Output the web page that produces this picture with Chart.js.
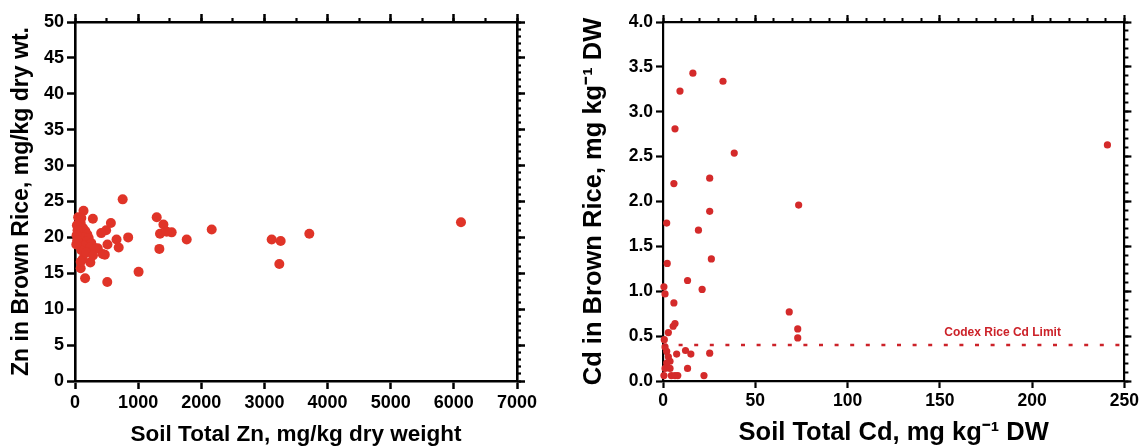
<!DOCTYPE html>
<html>
<head>
<meta charset="utf-8">
<script src="https://cdn.jsdelivr.net/npm/chart.js@4.4.1/dist/chart.umd.min.js"></script>
<style>
  html, body { margin: 0; padding: 0; background: #fff; }
  #wrap { position: relative; width: 1142px; height: 446px; overflow: hidden; background: #fff; }
  .panel { position: absolute; top: 0; width: 571px; height: 446px; }
  #p1 { left: 0; }
  #p2 { left: 571px; }
</style>
</head>
<body>
<div id="wrap">
  <div class="panel" id="p1"><canvas id="c1" width="571" height="446"></canvas></div>
  <div class="panel" id="p2"><canvas id="c2" width="571" height="446"></canvas></div>
</div>
<script>
// ---------- Data: left panel (Zn) ----------
const soilZn = [755, 135, 283, 568, 1294, 1400, 1346, 1531, 1452, 2165, 1769, 1336, 842, 658, 692, 514, 493, 415, 472, 438, 360, 317, 243, 124, 1007, 511, 160, 90, 6113, 3115, 3257, 3711, 3236, 50, 90, 100, 127, 163, 111, 195, 143, 217, 179, 258, 127, 233, 312, 100, 179, 285, 90, 30, 40, 25, 35, 20];
const riceZn = [25.3, 23.7, 22.6, 22.0, 22.8, 21.8, 20.5, 20.7, 20.8, 21.1, 19.7, 18.4, 20.0, 19.7, 18.6, 19.0, 21.0, 20.6, 17.6, 17.7, 18.5, 18.5, 16.5, 17.0, 15.2, 13.8, 14.3, 15.7, 22.1, 19.7, 19.5, 20.5, 16.3, 22.8, 22.0, 22.7, 21.3, 20.9, 20.6, 20.4, 20.0, 19.9, 19.4, 19.2, 18.9, 18.6, 18.4, 18.2, 17.9, 17.5, 16.6, 21.7, 21.0, 20.3, 19.6, 19.0];

// ---------- Data: right panel (Cd) ----------
const soilCd = [16.2, 32.5, 9.2, 6.5, 38.6, 25.3, 5.9, 25.3, 2.0, 19.2, 2.3, 26.2, 13.3, 21.2, 0.5, 1.1, 5.9, 6.5, 5.5, 2.9, 0.7, 1.1, 2.0, 7.4, 12.2, 15.1, 25.3, 13.3, 22.2, 0.5, 4.5, 6.5, 8.0, 68.4, 73.5, 73.0, 73.0, 240.8, 2.9, 3.8, 2.0, 1.1, 3.8];
const riceCd = [3.43, 3.34, 3.23, 2.81, 2.54, 2.26, 2.20, 1.89, 1.76, 1.68, 1.31, 1.36, 1.12, 1.02, 1.05, 0.97, 0.87, 0.64, 0.61, 0.54, 0.46, 0.38, 0.33, 0.30, 0.34, 0.30, 0.31, 0.14, 0.06, 0.06, 0.06, 0.06, 0.06, 0.77, 1.96, 0.58, 0.48, 2.63, 0.27, 0.22, 0.20, 0.14, 0.14];
const codexLimit = 0.4;
const limitLabel = 'Codex Rice Cd Limit';
const limitLabelX = 184;

// ---------- Axis text ----------
const znXTitle = 'Soil Total Zn, mg/kg dry weight';
const znYTitle = 'Zn in Brown Rice, mg/kg dry wt.';
const cdXTitle = 'Soil Total Cd, mg kg\u207B\u00B9 DW';
const cdYTitle = 'Cd in Brown Rice, mg kg\u207B\u00B9 DW';
const znXRange = [0, 7000], znXMajor = 1000, znXMinor = 500;
const znYRange = [0, 50], znYMajor = 5, znYMinor = 1;
const cdXRange = [0, 250], cdXMajor = 50, cdXMinor = 10;
const cdYRange = [0, 4], cdYMajor = 0.5, cdYMinor = 0.1;

const FAM = '"Liberation Sans", Arial, Helvetica, sans-serif';

function makeScales(o) {
  const blank = () => '';
  const common = (axis, pos, range, step, len, width, labels, size) => ({
    type: 'linear', axis: axis, position: pos, min: range[0], max: range[1],
    ticks: {
      stepSize: step, autoSkip: false, maxRotation: 0, minRotation: 0, maxTicksLimit: 500,
      color: '#000', font: { family: FAM, size: o.tickSize, weight: 'bold' }, padding: o.tickPad,
      callback: labels ? labels : blank
    },
    grid: { drawOnChartArea: false, drawTicks: true, tickLength: len, tickWidth: width, tickColor: '#000' },
    border: { display: false },
    afterFit: (s) => { if (s.isHorizontal()) s.height = size; else s.width = size; }
  });
  const s = {};
  s.x = common('x', 'bottom', o.xRange, o.xMajor, o.majLen, o.tickW, o.xFmt, o.bottomSize);
  s.x.border = { display: true, width: o.axisW, color: '#000' };
  s.x.title = { display: true, text: o.xTitle, color: '#000', font: { family: FAM, size: o.xTitleSize, weight: 'bold', lineHeight: 1.0 }, padding: { top: 0, bottom: o.xTitlePad } };
  s.xm = common('x', 'bottom', o.xRange, o.xMinor, o.minLen, o.minW, null, 0);
  s.x2 = common('x', 'top', o.xRange, o.xMajor, o.majLen, o.tickW, null, 0);
  s.x2.border = { display: true, width: o.axisW, color: '#000' };
  s.x2m = common('x', 'top', o.xRange, o.xMinor, o.minLen, o.minW, null, 0);
  s.y = common('y', 'left', o.yRange, o.yMajor, o.majLen, o.tickW, o.yFmt, o.leftSize);
  s.y.border = { display: true, width: o.axisW, color: '#000' };
  s.y.title = { display: true, text: o.yTitle, color: '#000', font: { family: FAM, size: o.yTitleSize, weight: 'bold' }, padding: { top: o.yTitlePad, bottom: 0 } };
  s.ym = common('y', 'left', o.yRange, o.yMinor, o.minLen, o.minW, null, 0);
  s.y2 = common('y', 'right', o.yRange, o.yMajor, o.majLen, o.tickW, null, 0);
  s.y2.border = { display: true, width: o.axisW, color: '#000' };
  s.y2m = common('y', 'right', o.yRange, o.yMinor, o.minLen, o.minW, null, 0);
  return s;
}

function pts(xs, ys) { return xs.map((v, i) => ({ x: v, y: ys[i] })); }

// ---------- Left chart ----------
new Chart(document.getElementById('c1'), {
  type: 'scatter',
  data: {
    datasets: [{
      data: pts(soilZn, riceZn), xAxisID: 'x', yAxisID: 'y',
      backgroundColor: '#e03428', borderColor: '#e03428', pointRadius: 5, borderWidth: 0, clip: false
    }]
  },
  options: {
    responsive: false, animation: false, devicePixelRatio: 1,
    layout: { padding: { top: 22, right: 54, left: 0, bottom: 0 } },
    plugins: { legend: { display: false }, tooltip: { enabled: false } },
    scales: makeScales({
      xRange: znXRange, xMajor: znXMajor, xMinor: znXMinor,
      yRange: znYRange, yMajor: znYMajor, yMinor: znYMinor,
      xFmt: (v) => String(v), yFmt: (v) => String(v),
      xTitle: znXTitle, yTitle: znYTitle, xTitleSize: 22.5, yTitleSize: 23,
      xTitlePad: 0, yTitlePad: 8,
      tickSize: 18, tickPad: 3, majLen: 8, minLen: 4, tickW: 2.5, minW: 2.2, axisW: 2.6,
      bottomSize: 65, leftSize: 75
    })
  }
});

// ---------- Right chart ----------
const limitPlugin = {
  id: 'limitLabel',
  afterDatasetsDraw(chart) {
    const xs = chart.scales.x, ys = chart.scales.y, ctx = chart.ctx;
    ctx.save();
    ctx.font = 'bold 12px ' + FAM;
    ctx.fillStyle = '#cc2229';
    ctx.textAlign = 'center';
    ctx.textBaseline = 'bottom';
    ctx.fillText(limitLabel, xs.getPixelForValue(limitLabelX), ys.getPixelForValue(codexLimit) - 6);
    ctx.restore();
  }
};

new Chart(document.getElementById('c2'), {
  type: 'scatter',
  data: {
    datasets: [{
      type: 'line',
      data: [{ x: cdXRange[0], y: codexLimit }, { x: cdXRange[1], y: codexLimit }],
      xAxisID: 'x', yAxisID: 'y',
      borderColor: '#cc2229', borderWidth: 2.5, borderDash: [4, 11.6], pointRadius: 0, fill: false
    }, {
      data: pts(soilCd, riceCd), xAxisID: 'x', yAxisID: 'y',
      backgroundColor: '#d42a2a', borderColor: '#d42a2a', pointRadius: 3.6, borderWidth: 0, clip: false
    }]
  },
  options: {
    responsive: false, animation: false, devicePixelRatio: 1,
    layout: { padding: { top: 22, right: 15, left: 0, bottom: 0 } },
    plugins: { legend: { display: false }, tooltip: { enabled: false } },
    scales: makeScales({
      xRange: cdXRange, xMajor: cdXMajor, xMinor: cdXMinor,
      yRange: cdYRange, yMajor: cdYMajor, yMinor: cdYMinor,
      xFmt: (v) => String(Math.round(v)), yFmt: (v) => v.toFixed(1),
      xTitle: cdXTitle, yTitle: cdYTitle, xTitleSize: 25.5, yTitleSize: 25.5,
      xTitlePad: 0, yTitlePad: 8,
      tickSize: 17.5, tickPad: 3, majLen: 7, minLen: 4, tickW: 2.2, minW: 2, axisW: 2.2,
      bottomSize: 65, leftSize: 92
    })
  },
  plugins: [limitPlugin]
});
</script>
</body>
</html>
